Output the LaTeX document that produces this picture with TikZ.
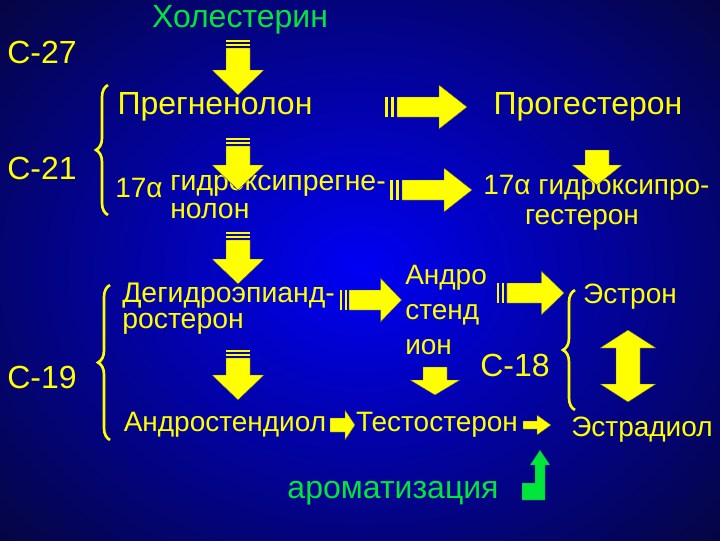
\documentclass[tikz,border=0pt]{standalone}
\usepackage{fontspec}
\setmainfont{Liberation Sans}
\usetikzlibrary{decorations.pathreplacing}
\definecolor{ylw}{RGB}{255,255,0}
\definecolor{grn}{RGB}{0,230,60}
\definecolor{bgin}{RGB}{0,0,245}
\definecolor{bgout}{RGB}{5,5,70}
\tikzset{
 lbl/.style={text=ylw,font=\fontsize{21}{24}\selectfont,inner sep=0pt},
 big/.style={lbl,font=\fontsize{24}{28}\selectfont},
 slbl/.style={text=ylw,font=\fontsize{21.3}{22}\selectfont,inner sep=0pt,anchor=west},
 blk/.style={fill=ylw,draw=black!70,line width=0.3pt},
 brc/.style={draw=ylw,line width=2pt,decorate,decoration={brace,amplitude=9pt}},
 pics/darr/.style 2 args={code={
   \fill[ylw] (-12,0) rectangle (12,2);
   \fill[ylw] (-12,4) rectangle (12,6);
   \path[blk] (-12,8) -- (12,8) -- (12,#1) -- (#2,#1) -- (0,#1+25) -- (-#2,#1) -- (-12,#1) -- cycle;}},
 pics/rarr/.style={code={
   \fill[ylw] (0,-10) rectangle (3,10);
   \fill[ylw] (6,-10) rectangle (9,10);
   \path[blk] (12,-10) -- (54,-10) -- (54,-22) -- (82,0) -- (54,22) -- (54,10) -- (12,10) -- cycle;}}
}
\begin{document}
\begin{tikzpicture}[x=0.75pt,y=-0.75pt]
\useasboundingbox (0,0) rectangle (720,540);
\shade[inner color=bgin,outer color=bgout] (-120,-120) rectangle (840,660);
% labels
\node[big] (c27) at (42,52) {C-27};
\node[big] (c21) at (42,168) {C-21};
\node[big] (c19) at (42,377) {C-19};
\node[big] (c18) at (515,365) {C-18};
\node[big,text=grn] (chol) at (240,20) {Холестерин};
\node[big] (preg) at (215,107) {Прегненолон};
\node[big] (prog) at (588,107) {Прогестерон};
\node[lbl,anchor=west] (n17a) at (115,188) {17α};
\node[slbl] (ohp1) at (170,186) {гидроксипрегне-};
\node[slbl] (ohp2) at (170,211) {нолон};
\node[lbl,anchor=west] (ohprog1) at (483,188) {17α гидроксипро-};
\node[lbl] (ohprog2) at (582,220) {гестерон};
\node[slbl] (dhea1) at (122,296) {Дегидроэпианд-};
\node[slbl] (dhea2) at (122,324) {ростерон};
\node[lbl,anchor=west,align=left,font=\fontsize{21}{26}\selectfont] (andr) at (405,310) {Андро\\стенд\\ион};
\node[lbl] (estron) at (630,297) {Эстрон};
\node[lbl] (adiol) at (225,425) {Андростендиол};
\node[lbl] (testo) at (437,425) {Тестостерон};
\node[lbl] (estrad) at (642,430) {Эстрадиол};
\node[big,text=grn] (arom) at (393,493) {ароматизация};
% braces
\draw[brc] (108,215) -- (108,85);
\draw[brc] (110,440) -- (110,285);
\draw[brc] (575,410) -- (575,290);
% down arrows
\pic at (238,40) {darr={30}{26}};
\pic at (238,138) {darr={27}{26}};
\pic at (238,232) {darr={27}{26}};
\pic at (238,350) {darr={25}{26}};
\path[blk] (585,150) -- (609,150) -- (609,165) -- (622,165) -- (597,185) -- (572,165) -- (585,165) -- cycle;
\path[blk] (423,367) -- (447,367) -- (447,380) -- (460,380) -- (435,395) -- (410,380) -- (423,380) -- cycle;
% right arrows
\pic at (385,107) {rarr};
\pic at (390,190) {rarr};
\pic[xscale=0.75] at (340,300) {rarr};
\pic[xscale=0.82] at (497,293) {rarr};
% small arrows
\path[blk] (330,418) -- (345,418) -- (345,410) -- (355,425) -- (345,440) -- (345,432) -- (330,432) -- cycle;
\path[blk] (523,421) -- (537,421) -- (537,415) -- (551,425) -- (537,435) -- (537,429) -- (523,429) -- cycle;
% double arrow
\path[blk] (628,330) -- (656,348) -- (640,348) -- (640,384) -- (656,384) -- (628,402) -- (600,384) -- (616,384) -- (616,348) -- (600,348) -- cycle;
% green aromatization arrow
\path[fill=grn,draw=black!70,line width=0.3pt] (522,500) -- (545,500) -- (545,465) -- (550,465) -- (540,450) -- (530,465) -- (535,465) -- (535,483) -- (522,483) -- cycle;
\end{tikzpicture}
\end{document}
